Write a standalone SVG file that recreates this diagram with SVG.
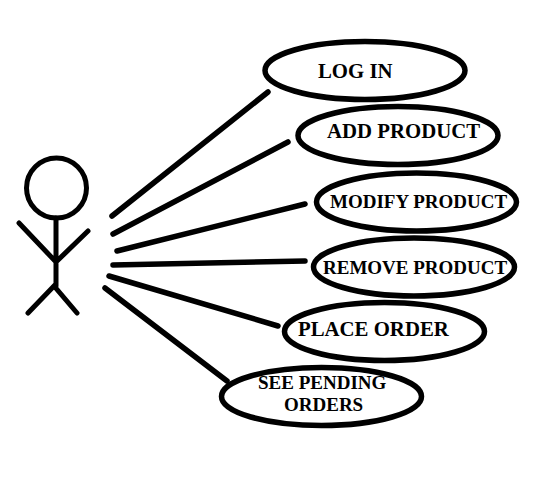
<svg xmlns="http://www.w3.org/2000/svg" width="543" height="478" viewBox="0 0 543 478">
<style>
.bg{fill:#fff}
.s{fill:none;stroke:#000;stroke-width:5;stroke-linecap:round}
.l{fill:none;stroke:#000;stroke-width:5.500;stroke-linecap:round}
.e{fill:#fff;stroke:#000;stroke-width:5.500}
text{font-family:"Liberation Serif","Times New Roman",serif;font-weight:700;fill:#000}
.a{font-size:20.800px}.b{font-size:19px}
</style>
<rect class="bg" width="543" height="478"/>
<g id="connectors">
<line class="l" x1="112" y1="216" x2="268" y2="92"/>
<line class="l" x1="113" y1="234" x2="288" y2="142"/>
<line class="l" x1="117" y1="251" x2="305" y2="204"/>
<line class="l" x1="113" y1="265" x2="305" y2="261"/>
<line class="l" x1="109" y1="276" x2="278" y2="326"/>
<line class="l" x1="105" y1="288" x2="227" y2="381"/>
</g>
<g id="actor">
<circle class="s" cx="56.500" cy="188" r="30"/>
<path class="s" d="M56 218V286M19 223L56 262L88 231M28 313L54 286L77 313"/>
</g>
<g id="log-in"><ellipse class="e" cx="365" cy="70.500" rx="100" ry="29"/><text class="a" x="318" y="78">LOG IN</text></g>
<g id="add-product"><ellipse class="e" cx="398" cy="135.500" rx="100" ry="29"/><text class="a" x="327" y="138">ADD PRODUCT</text></g>
<g id="modify-product"><ellipse class="e" cx="416.500" cy="202" rx="100" ry="29"/><text class="b" x="330" y="208">MODIFY PRODUCT</text></g>
<g id="remove-product"><ellipse class="e" cx="414" cy="267" rx="100.500" ry="29"/><text class="b" x="323" y="274">REMOVE PRODUCT</text></g>
<g id="place-order"><ellipse class="e" cx="384.500" cy="331.500" rx="100" ry="29"/><text class="a" x="298" y="336">PLACE ORDER</text></g>
<g id="see-pending-orders"><ellipse class="e" cx="321.500" cy="396.500" rx="100" ry="29"/><text class="b" x="258" y="389">SEE PENDING</text><text class="b" x="284" y="411">ORDERS</text></g>
</svg>
